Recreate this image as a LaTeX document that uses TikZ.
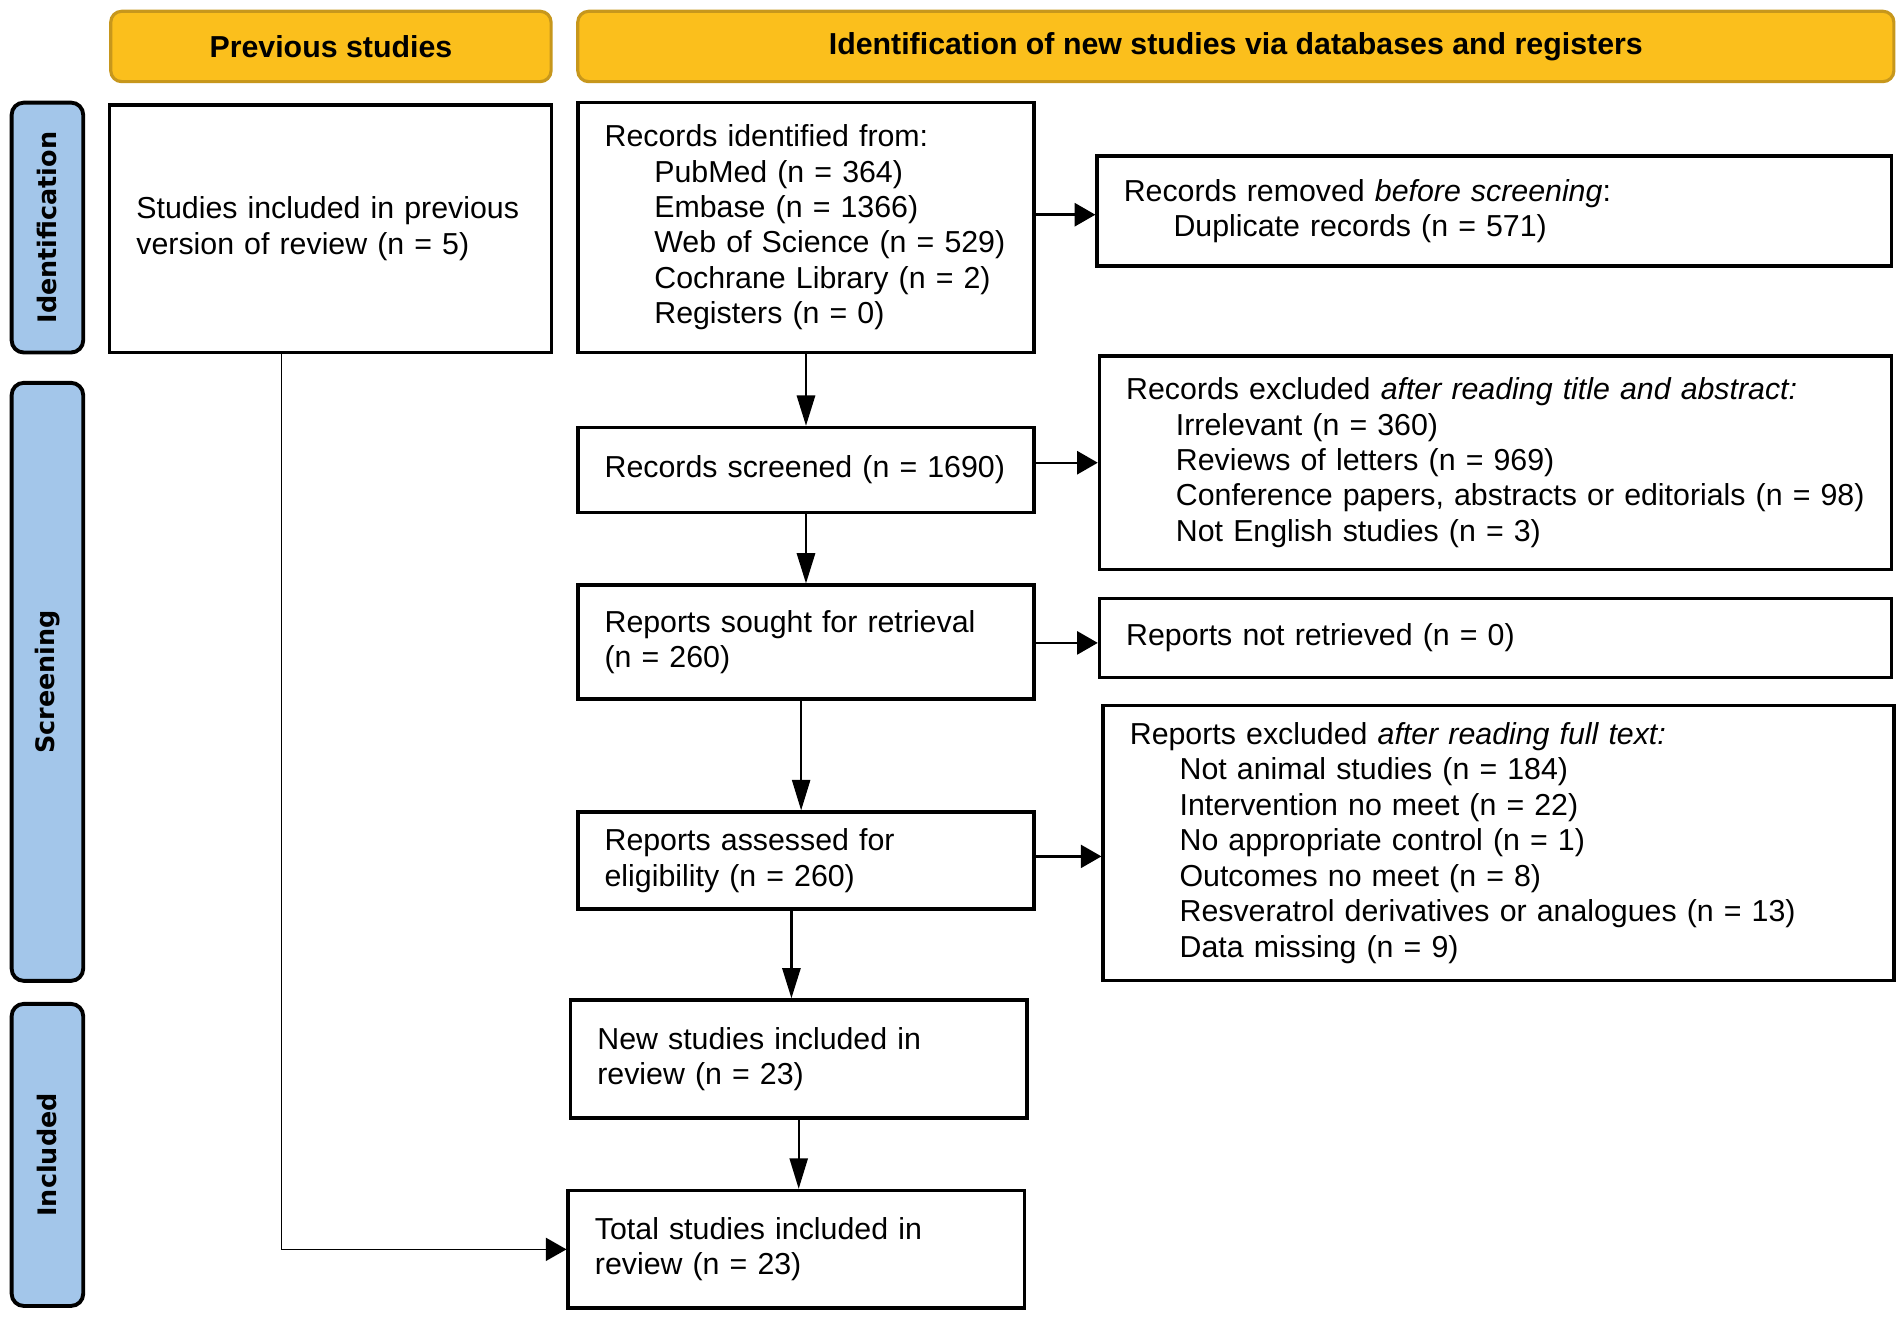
\documentclass[tikz,border=0pt]{standalone}
\usepackage{fontspec}
\setmainfont{Liberation Sans}
\newfontfamily\stagefont{DejaVu Sans}
\usetikzlibrary{arrows.meta,positioning}

\definecolor{goldfill}{HTML}{FBBF1C}
\definecolor{goldline}{HTML}{C7971C}
\definecolor{bluefill}{HTML}{A3C6EA}

\newcommand{\ind}{\hspace*{41pt}}

\tikzset{
  phase/.style={draw=goldline, line width=2.6pt, fill=goldfill, rounded corners=9pt,
    anchor=north west, inner sep=0pt, font=\fontsize{25}{29}\selectfont\bfseries},
  stage/.style={draw=black, line width=3.2pt, fill=bluefill, rounded corners=10pt,
    anchor=north west, inner sep=0pt},
  stagetext/.style={rotate=90, font=\stagefont\fontsize{21}{25}\selectfont\bfseries},
  recbox/.style={draw=black, line width=2.9pt, anchor=north west, align=left,
    inner xsep=22pt, inner ysep=0pt, font=\fontsize{25}{29.2}\selectfont},
  vflow/.style={line width=2pt, -{Triangle[length=25pt,width=15pt]}},
  thinvflow/.style={line width=1.3pt, -{Triangle[length=25pt,width=15pt]}},
  hflow/.style={line width=2pt, -{Triangle[length=17pt,width=19pt]}},
  thinhflow/.style={line width=1.3pt, -{Triangle[length=17pt,width=19pt]}},
}

\begin{document}
\begin{tikzpicture}[x=1pt,y=-1pt]
\useasboundingbox[fill=white] (0,0) rectangle (1568,1085);
% column headers
\node[phase, minimum width=363pt, minimum height=58pt] (prevhead) at (90,8) {Previous studies};
\node[phase, minimum width=1085pt, minimum height=58pt] (newhead) at (475,8) {Identification of new studies via databases and registers};
% stage bars
\node[stage, minimum width=59pt, minimum height=206pt] (idbar) at (8,83) {};
\node[stagetext] at (idbar) {Identification};
\node[stage, minimum width=59pt, minimum height=493pt] (scrbar) at (8,314) {};
\node[stagetext] at (scrbar) {Screening};
\node[stage, minimum width=59pt, minimum height=249pt] (incbar) at (8,826) {};
\node[stagetext] at (incbar) {Included};
% boxes
\node[recbox, minimum width=364pt, minimum height=204pt, text width=320pt] (prev) at (89,85)
  {Studies included in previous\\version of review (n = 5)};
\node[recbox, minimum width=376pt, minimum height=206pt, text width=332pt] (ident) at (475,83)
  {Records identified from:\\\ind PubMed (n = 364)\\\ind Embase (n = 1366)\\\ind Web of Science (n = 529)\\\ind Cochrane Library (n = 2)\\\ind Registers (n = 0)};
\node[recbox, minimum width=655pt, minimum height=91pt, text width=611pt] (removed) at (903,127)
  {Records removed \textit{before screening}:\\\ind Duplicate records (n = 571)};
\node[recbox, minimum width=376pt, minimum height=70pt, text width=332pt] (screened) at (475,351)
  {Records screened (n = 1690)};
\node[recbox, minimum width=653pt, minimum height=176pt, text width=609pt] (excl1) at (905,292)
  {Records excluded \textit{after reading title and abstract:}\\\ind Irrelevant (n = 360)\\\ind Reviews of letters (n = 969)\\\ind Conference papers, abstracts or editorials (n = 98)\\\ind Not English studies (n = 3)};
\node[recbox, minimum width=376pt, minimum height=94pt, text width=332pt] (sought) at (475,481)
  {Reports sought for retrieval\\(n = 260)};
\node[recbox, minimum width=653pt, minimum height=65pt, text width=609pt] (notretr) at (905,492)
  {Reports not retrieved (n = 0)};
\node[recbox, minimum width=652pt, minimum height=227pt, text width=608pt] (excl2) at (908,580)
  {Reports excluded \textit{after reading full text:}\\\ind Not animal studies (n = 184)\\\ind Intervention no meet (n = 22)\\\ind No appropriate control (n = 1)\\\ind Outcomes no meet (n = 8)\\\ind Resveratrol derivatives or analogues (n = 13)\\\ind Data missing (n = 9)};
\node[recbox, minimum width=376pt, minimum height=80pt, text width=332pt] (assessed) at (475,668)
  {Reports assessed for\\eligibility (n = 260)};
\node[recbox, minimum width=376pt, minimum height=97pt, text width=332pt] (newinc) at (469,823)
  {New studies included in\\review (n = 23)};
\node[recbox, minimum width=376pt, minimum height=97pt, text width=332pt] (total) at (467,980)
  {Total studies included in\\review (n = 23)};
% connectors
\draw[vflow] (ident.south) -- (screened.north);
\draw[hflow] (ident.east |- 0,177) -- (removed.west |- 0,177);
\draw[vflow] (screened.south) -- (sought.north);
\draw[hflow] (screened.east |- excl1.west) -- (excl1.west);
\draw[hflow] (sought.east |- 0,530) -- (notretr.west |- 0,530);
\draw[thinvflow] ([xshift=-4pt]sought.south) -- ([xshift=-4pt]sought.south |- assessed.north);
\draw[hflow] (assessed.east |- 0,706) -- (excl2.west |- 0,706);
\draw[vflow] ([xshift=-6pt]newinc.north |- assessed.south) -- ([xshift=-6pt]newinc.north);
\draw[thinvflow] (newinc.south) -- (newinc.south |- total.north);
\coordinate (drop) at (232,0);
\draw[thinhflow] (prev.south -| drop) |- (total.west);
\end{tikzpicture}
\end{document}
